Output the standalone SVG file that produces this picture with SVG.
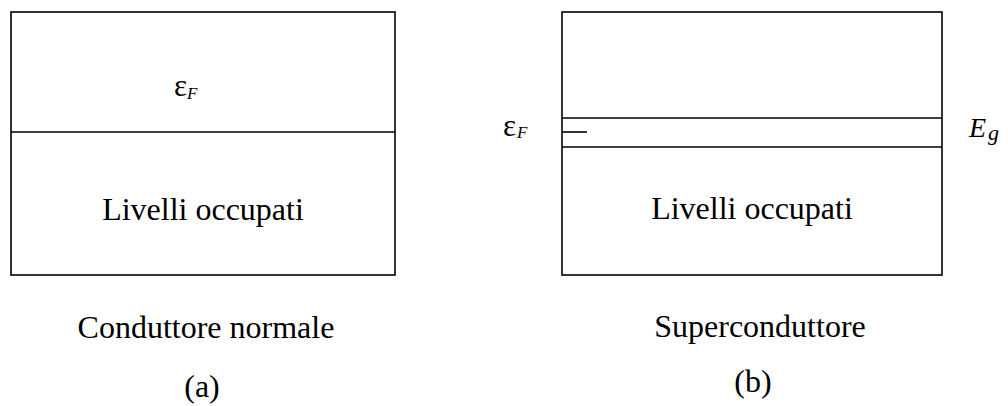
<svg xmlns="http://www.w3.org/2000/svg" width="1008" height="406" viewBox="0 0 1008 406">
<style>
.box{fill:none;stroke:#000;stroke-width:1.6}
.ln{stroke:#000;stroke-width:1.6;fill:none}
text{font-family:'Liberation Serif','Times New Roman',Times,'Nimbus Roman','DejaVu Serif',serif;fill:#000}
.t{font-size:32px}
.sym{font-size:31px}
.sub{font-style:italic}
</style>
<rect width="1008" height="406" fill="#fff"/>
<g id="panel-a">
  <rect class="box" x="11" y="12" width="384" height="263"/>
  <line class="ln" x1="11" y1="132" x2="395" y2="132"/>
  <text class="sym" x="174" y="96">ε</text>
  <text class="sub" x="187" y="99" font-size="17">F</text>
  <text class="t" x="203" y="220" text-anchor="middle">Livelli occupati</text>
  <text class="t" x="206" y="338" text-anchor="middle">Conduttore normale</text>
  <text class="t" x="202" y="397" text-anchor="middle">(a)</text>
</g>
<g id="panel-b">
  <rect class="box" x="562" y="12" width="380" height="263"/>
  <line class="ln" x1="562" y1="118" x2="942" y2="118"/>
  <line class="ln" x1="562" y1="147" x2="942" y2="147"/>
  <line class="ln" x1="562" y1="132" x2="587" y2="132"/>
  <text class="sym" x="503" y="136">ε</text>
  <text class="sub" x="517" y="138" font-size="17">F</text>
  <text class="sub" x="969" y="137" font-size="28">E</text>
  <text class="sub" x="988" y="140" font-size="22">g</text>
  <text class="t" x="752" y="219" text-anchor="middle">Livelli occupati</text>
  <text class="t" x="760" y="337" text-anchor="middle">Superconduttore</text>
  <text class="t" x="753" y="392" text-anchor="middle">(b)</text>
</g>
</svg>
